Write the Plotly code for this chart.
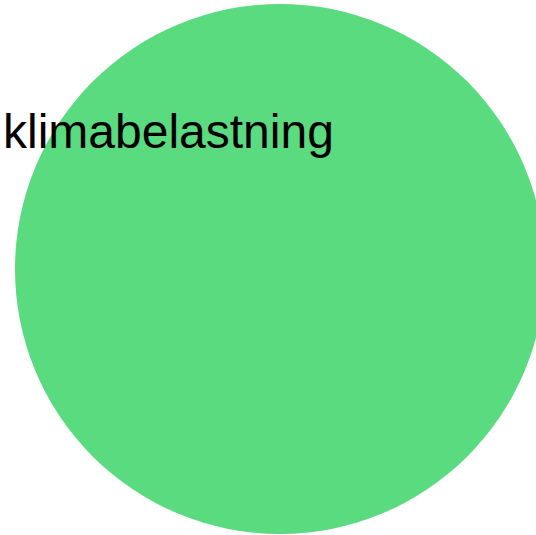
import plotly.graph_objects as go

# Data
categories = ["klimabelastning"]
values = [1.0]          # relative bubble radius
x_pos = [0.0]
y_pos = [0.0]
label_x = [-0.42]
label_y = [0.517]

W, H = 536, 535
px_per_unit = 265.0
cx_px, cy_px = 280.0, 269.0

x_range = [-cx_px / px_per_unit, (W - cx_px) / px_per_unit]
y_range = [-(H - cy_px) / px_per_unit, cy_px / px_per_unit]

fig = go.Figure()
fig.add_trace(go.Scatter(
    x=x_pos, y=y_pos, mode="markers",
    marker=dict(
        size=values,
        sizemode="diameter",
        sizeref=1.0 / (2 * px_per_unit),
        color="#5ADB7F",
        line=dict(width=0),
        opacity=1,
    ),
    hoverinfo="skip",
    showlegend=False,
    cliponaxis=False,
))

for name, lx, ly in zip(categories, label_x, label_y):
    fig.add_annotation(
        x=lx, y=ly, text=name, showarrow=False,
        xanchor="center", yanchor="middle",
        font=dict(family="Liberation Sans, Arial", size=48, color="#000000"),
    )

fig.update_layout(
    width=W, height=H,
    margin=dict(l=0, r=0, t=0, b=0),
    paper_bgcolor="white", plot_bgcolor="white",
    xaxis=dict(range=x_range, visible=False, fixedrange=True),
    yaxis=dict(range=y_range, visible=False, fixedrange=True),
    showlegend=False,
)

fig.write_html(
    "out.html",
    config={"displayModeBar": False},
    post_script="document.body.style.margin='0';document.body.style.overflow='hidden';",
)
